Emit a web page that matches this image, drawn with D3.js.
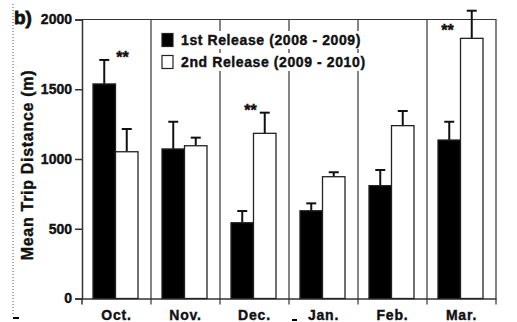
<!DOCTYPE html>
<html lang='en'>
	<head>
		<meta charset='UTF-8'>
		<title>Mean Trip Distance</title>
		<style>
			body { margin: 0; background: #fff; }
			text { font-family: 'Liberation Sans', Arial, sans-serif; font-weight: bold; fill: #111; stroke: #111; stroke-width: 0.4px; }
		</style>
	</head>
	<body>
		<svg id='graph' width='517' height='322'></svg>

		<script src='https://d3js.org/d3.v7.min.js'></script>
		<script>
			const months = ['Oct.', 'Nov.', 'Dec.', 'Jan.', 'Feb.', 'Mar.']
			const series = ['1st Release (2008 - 2009)', '2nd Release (2009 - 2010)']
			const firstMean = [1538, 1072, 543, 629, 809, 1136]
			const firstErr = [172, 195, 84, 53, 112, 131]
			const secondMean = [1052, 1095, 1184, 873, 1239, 1865]
			const secondErr = [163, 58, 148, 32, 105, 198]
			const starred = ['Oct.', 'Dec.', 'Mar.']
			const yTicks = [0, 500, 1000, 1500, 2000]

			const svg = d3.select('#graph')
			const plotLeft = 82, plotRight = 496, plotTop = 19.5, plotBottom = 298.5

			const data = []
			months.forEach((m, i) => {
				data.push({ month: m, s: series[0], v: firstMean[i], e: firstErr[i] })
				data.push({ month: m, s: series[1], v: secondMean[i], e: secondErr[i] })
			})

			const xScale = d3.scaleBand().domain(months).range([plotLeft, plotRight])
			const inner = d3.scaleBand().domain(series).range([11, 56])
			const yScale = d3.scaleLinear().domain([0, 2000]).range([plotBottom, plotTop])
			const fill = d3.scaleOrdinal().domain(series).range(['#000', '#fff'])

			// scan artefacts on the left edge
			svg.append('line')
				.attr('x1', 13).attr('x2', 13).attr('y1', 4).attr('y2', 316)
				.attr('stroke', '#555').attr('stroke-width', 1).attr('stroke-dasharray', '1,2')
			svg.append('line')
				.attr('x1', 13).attr('x2', 19).attr('y1', 318).attr('y2', 318)
				.attr('stroke', '#000').attr('stroke-width', 2)
			svg.append('line')
				.attr('x1', 292).attr('x2', 297).attr('y1', 320).attr('y2', 320)
				.attr('stroke', '#000').attr('stroke-width', 2)

			// month separators (extend below axis as ticks)
			svg.selectAll('.sep')
				.data(months.slice(1))
				.enter()
				.append('line')
				.attr('x1', (m) => xScale(m)).attr('x2', (m) => xScale(m))
				.attr('y1', plotTop).attr('y2', plotBottom + 6)
				.attr('stroke', '#333').attr('stroke-width', 1.2)

			// frame top/right
			svg.append('path')
				.attr('d', `M${plotLeft},${plotTop}H${plotRight}V${plotBottom + 6}`)
				.attr('fill', 'none').attr('stroke', '#333').attr('stroke-width', 1.2)

			const yAxis = d3.axisLeft(yScale).tickValues(yTicks).tickFormat(d3.format('d')).tickSize(7).tickPadding(3)
			const gy = svg.append('g')
				.attr('transform', `translate(${plotLeft}, 0)`)
				.call(yAxis)
			gy.select('.domain').attr('stroke', '#333').attr('stroke-width', 1.5)
			gy.selectAll('.tick line').attr('stroke', '#333').attr('stroke-width', 1.5)
			gy.selectAll('.tick text')
				.style('font-size', '14px').style('font-family', 'Liberation Sans, Arial, sans-serif')
				.style('font-weight', 'bold').attr('fill', '#111')

			const xAxis = d3.axisBottom(xScale).tickSize(0).tickPadding(12)
			const gx = svg.append('g')
				.attr('transform', `translate(0, ${plotBottom})`)
				.call(xAxis)
			gx.select('.domain').attr('stroke', '#333').attr('stroke-width', 1.5)
			gx.selectAll('.tick text')
				.style('font-size', '14px').style('font-family', 'Liberation Sans, Arial, sans-serif')
				.style('font-weight', 'bold').style('letter-spacing', '0.8px').attr('fill', '#111')
			svg.append('line')
				.attr('x1', plotLeft).attr('x2', plotLeft).attr('y1', plotBottom).attr('y2', plotBottom + 6)
				.attr('stroke', '#333').attr('stroke-width', 1.5)

			// error bars
			const errG = svg.append('g').attr('stroke', '#111').attr('stroke-width', 2)
			data.forEach((d) => {
				const cx = xScale(d.month) + inner(d.s) + inner.bandwidth() / 2
				errG.append('line')
					.attr('x1', cx).attr('x2', cx)
					.attr('y1', yScale(d.v)).attr('y2', yScale(d.v + d.e))
				errG.append('line')
					.attr('x1', cx - 5).attr('x2', cx + 5)
					.attr('y1', yScale(d.v + d.e)).attr('y2', yScale(d.v + d.e))
			})

			svg.selectAll('.bar')
				.data(data)
				.enter()
				.append('rect')
				.attr('x', (d) => xScale(d.month) + inner(d.s))
				.attr('y', (d) => yScale(d.v))
				.attr('width', inner.bandwidth())
				.attr('height', (d) => plotBottom - yScale(d.v))
				.attr('fill', (d) => fill(d.s))
				.attr('stroke', '#222').attr('stroke-width', 1.3)

			// significance marks: just above the taller error bar of the pair,
			// kept inside the frame, set left of the white bar's whisker
			svg.selectAll('.star')
				.data(months.filter((m) => starred.includes(m)))
				.enter()
				.append('text')
				.attr('x', (m) => {
					const i = months.indexOf(m)
					const hiWhite = secondMean[i] + secondErr[i] > firstMean[i] + firstErr[i]
					const base = xScale(m) + inner(series[1])
					return hiWhite ? base - 3 - (yScale(secondMean[i] + secondErr[i]) < plotTop ? 10 : 0) : base + 7
				})
				.attr('y', (m) => {
					const i = months.indexOf(m)
					const hi = Math.max(firstMean[i] + firstErr[i], secondMean[i] + secondErr[i])
					return Math.max(yScale(hi) - 5, 28) + 8
				})
				.attr('text-anchor', 'middle')
				.style('font-size', '16px')
				.text('**')

			// legend
			const legend = svg.append('g').attr('transform', 'translate(162, 33)')
			series.forEach((s, i) => {
				legend.append('rect')
					.attr('x', -4).attr('y', i * 22 - 2).attr('width', 210).attr('height', 18)
					.attr('fill', '#fff')
				legend.append('rect')
					.attr('x', 0).attr('y', i * 22 + 0.5).attr('width', 11).attr('height', 13)
					.attr('fill', fill(s)).attr('stroke', '#222').attr('stroke-width', 1.2)
				legend.append('text')
					.attr('x', 19).attr('y', i * 22 + 12)
					.style('font-size', '14px')
					.style('letter-spacing', '0.6px')
					.text(s)
			})

			svg.append('text')
				.attr('x', 14).attr('y', 24)
				.style('font-size', '19px')
				.style('stroke-width', '0.8px')
				.text('b)')

			svg.append('text')
				.attr('transform', `translate(33, ${(plotTop + plotBottom) / 2 + 6}) rotate(-90)`)
				.attr('text-anchor', 'middle')
				.style('font-size', '16px')
				.style('letter-spacing', '0.7px')
				.text('Mean Trip Distance (m)')
		</script>
	</body>
</html>
